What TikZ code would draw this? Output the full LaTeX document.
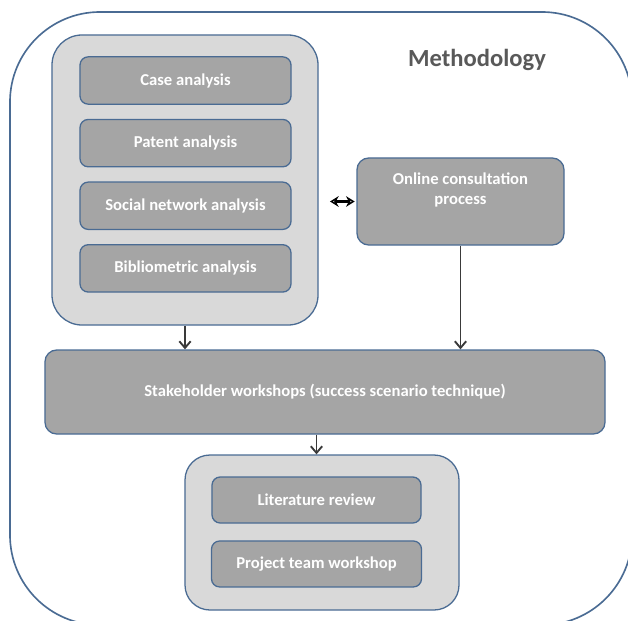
\documentclass[tikz,border=0pt]{standalone}
\usepackage{fontspec}
\setmainfont{Carlito}
\usetikzlibrary{arrows.meta,positioning}
\definecolor{methblue}{HTML}{4A6B93}
\definecolor{groupgray}{HTML}{D9D9D9}
\definecolor{boxgray}{HTML}{A5A5A5}
\definecolor{titlegray}{HTML}{595959}
\definecolor{arrowgray}{HTML}{3A3A3A}
\tikzset{framebox/.style={draw=methblue, line width=1.4pt, rounded corners=2.7cm,
  minimum width=18.66cm, minimum height=18.39cm, inner sep=0pt},
  groupbox/.style={draw=methblue, fill=groupgray, line width=1.1pt, inner sep=0pt},
  stepbox/.style={draw=methblue, fill=boxgray, line width=1.1pt, rounded corners=7pt,
  inner sep=0pt, align=center, text=white, font=\bfseries\fontsize{14.2}{17}\selectfont},
  flowarrow/.style={-{Straight Barb[length=2mm,width=3.4mm]}, arrowgray, line width=1.6pt},
  linkarrow/.style={{Stealth[length=2.6mm,width=3.2mm,open]}-{Stealth[length=2.6mm,width=3.2mm,open]},
  black, line width=2pt}}

\begin{document}
\begin{tikzpicture}[x=0.03cm, y=-0.03cm]
    \useasboundingbox (0,0) rectangle (628,620);
    \node[framebox] (frame) at (321,318.5) {};
    \node[font=\bfseries\fontsize{21}{24}\selectfont, text=titlegray] (title) at (477,60) {Methodology};
    % analyses
    \node[groupbox, rounded corners=0.9cm, minimum width=7.98cm, minimum height=8.7cm] (grpA) at (185,180) {};
    \node[stepbox, minimum width=6.33cm, minimum height=1.42cm] (case) at (185.5,80.5) {Case analysis};
    \node[stepbox, minimum width=6.33cm, minimum height=1.42cm, below=0.42cm of case] (patent) {Patent analysis};
    \node[stepbox, minimum width=6.33cm, minimum height=1.42cm, below=0.42cm of patent] (social) {Social network analysis};
    \node[stepbox, minimum width=6.33cm, minimum height=1.42cm, below=0.42cm of social] (biblio) {Bibliometric analysis};
    \node[stepbox, rounded corners=10pt, minimum width=6.21cm, minimum height=2.61cm] (online) at (460.5,201.5) {Online consultation\\process\\\strut};
    % workshops
    \node[stepbox, rounded corners=10pt, minimum width=16.8cm, minimum height=2.52cm] (stake) at (325,392) {Stakeholder workshops (success scenario technique)};
    \node[groupbox, rounded corners=0.75cm, minimum width=8.22cm, minimum height=4.65cm] (grpB) at (322,532.5) {};
    \node[stepbox, minimum width=6.27cm, minimum height=1.38cm] (lit) at (316.5,500) {Literature review};
    \node[stepbox, minimum width=6.3cm, minimum height=1.38cm, below=0.5cm of lit] (team) {Project team workshop};
    \draw[linkarrow, shorten <=3.4mm, shorten >=0.5mm] (grpA.east |- online) -- (online.west);
    \draw[flowarrow] (grpA.south) -- (grpA.south |- stake.north);
    \draw[flowarrow] (online.south) -- (online.south |- stake.north);
    \draw[flowarrow] (lit |- stake.south) -- (lit |- grpB.north);
  \end{tikzpicture}
\end{document}
